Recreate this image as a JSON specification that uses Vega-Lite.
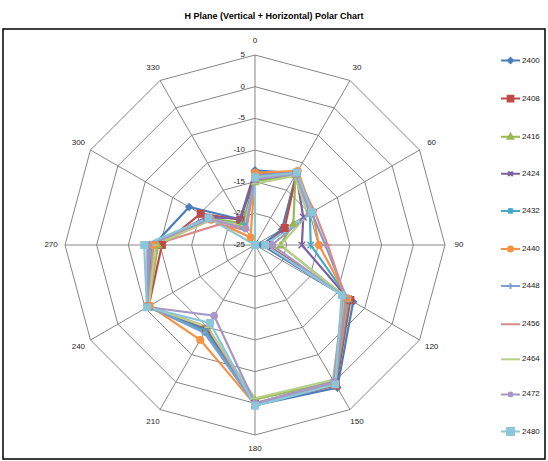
{
"$schema": "https://vega.github.io/schema/vega-lite/v6.json",
"width": 542, "height": 430,
"padding": {"left": 3, "top": 12, "right": 3, "bottom": 2},
"title": {"text": "H Plane (Vertical + Horizontal) Polar Chart", "fontSize": 9, "font": "Liberation Sans", "fontWeight": "bold", "anchor": "middle", "offset": 8, "color": "#000"},
"config": {"view": {"stroke": "#000", "strokeWidth": 1.5}, "font": "Liberation Sans"},
"datasets": {
"angles": [{"a":0,"lab":"0"},{"a":30,"lab":"30"},{"a":60,"lab":"60"},{"a":90,"lab":"90"},{"a":120,"lab":"120"},{"a":150,"lab":"150"},{"a":180,"lab":"180"},{"a":210,"lab":"210"},{"a":240,"lab":"240"},{"a":270,"lab":"270"},{"a":300,"lab":"300"},{"a":330,"lab":"330"}],
"rings": [{"u":5,"a":[0,30,60,90,120,150,180,210,240,270,300,330]},{"u":10,"a":[0,30,60,90,120,150,180,210,240,270,300,330]},{"u":15,"a":[0,30,60,90,120,150,180,210,240,270,300,330]},{"u":20,"a":[0,30,60,90,120,150,180,210,240,270,300,330]},{"u":25,"a":[0,30,60,90,120,150,180,210,240,270,300,330]},{"u":30,"a":[0,30,60,90,120,150,180,210,240,270,300,330]}],
"rlabels": [{"lab":"5","u":30},{"lab":"0","u":25},{"lab":"-5","u":20},{"lab":"-10","u":15},{"lab":"-15","u":10},{"lab":"-20","u":5},{"lab":"-25","u":0}],
"radar": [
{"s":"2400","a":0,"v":-13.2},{"s":"2400","a":30,"v":-11.9},{"s":"2400","a":60,"v":-20.1},{"s":"2400","a":90,"v":-23.9},{"s":"2400","a":120,"v":-7.1},{"s":"2400","a":150,"v":1.0},{"s":"2400","a":180,"v":0.3},{"s":"2400","a":210,"v":-9.5},{"s":"2400","a":240,"v":-5.4},{"s":"2400","a":270,"v":-9.0},{"s":"2400","a":300,"v":-13.0},{"s":"2400","a":330,"v":-20.3},
{"s":"2408","a":0,"v":-13.8},{"s":"2408","a":30,"v":-11.8},{"s":"2408","a":60,"v":-19.6},{"s":"2408","a":90,"v":-23.1},{"s":"2408","a":120,"v":-7.6},{"s":"2408","a":150,"v":0.6},{"s":"2408","a":180,"v":0.1},{"s":"2408","a":210,"v":-9.6},{"s":"2408","a":240,"v":-5.6},{"s":"2408","a":270,"v":-10.3},{"s":"2408","a":300,"v":-15.1},{"s":"2408","a":330,"v":-20.4},
{"s":"2416","a":0,"v":-15.0},{"s":"2416","a":30,"v":-12.2},{"s":"2416","a":60,"v":-18.0},{"s":"2416","a":90,"v":-21.0},{"s":"2416","a":120,"v":-8.2},{"s":"2416","a":150,"v":-0.1},{"s":"2416","a":180,"v":-0.6},{"s":"2416","a":210,"v":-9.8},{"s":"2416","a":240,"v":-5.5},{"s":"2416","a":270,"v":-9.7},{"s":"2416","a":300,"v":-16.5},{"s":"2416","a":330,"v":-21.0},
{"s":"2424","a":0,"v":-14.7},{"s":"2424","a":30,"v":-12.0},{"s":"2424","a":60,"v":-16.2},{"s":"2424","a":90,"v":-17.6},{"s":"2424","a":120,"v":-8.0},{"s":"2424","a":150,"v":0.2},{"s":"2424","a":180,"v":0.0},{"s":"2424","a":210,"v":-9.6},{"s":"2424","a":240,"v":-5.4},{"s":"2424","a":270,"v":-8.8},{"s":"2424","a":300,"v":-16.2},{"s":"2424","a":330,"v":-20.2},
{"s":"2432","a":0,"v":-14.3},{"s":"2432","a":30,"v":-11.9},{"s":"2432","a":60,"v":-15.0},{"s":"2432","a":90,"v":-16.2},{"s":"2432","a":120,"v":-7.9},{"s":"2432","a":150,"v":0.4},{"s":"2432","a":180,"v":0.1},{"s":"2432","a":210,"v":-9.3},{"s":"2432","a":240,"v":-5.5},{"s":"2432","a":270,"v":-8.4},{"s":"2432","a":300,"v":-16.7},{"s":"2432","a":330,"v":-21.5},
{"s":"2440","a":0,"v":-13.6},{"s":"2440","a":30,"v":-11.5},{"s":"2440","a":60,"v":-14.5},{"s":"2440","a":90,"v":-14.9},{"s":"2440","a":120,"v":-8.1},{"s":"2440","a":150,"v":0.2},{"s":"2440","a":180,"v":0.2},{"s":"2440","a":210,"v":-7.7},{"s":"2440","a":240,"v":-5.8},{"s":"2440","a":270,"v":-8.9},{"s":"2440","a":300,"v":-17.0},{"s":"2440","a":330,"v":-23.6},
{"s":"2448","a":0,"v":-14.0},{"s":"2448","a":30,"v":-11.8},{"s":"2448","a":60,"v":-14.7},{"s":"2448","a":90,"v":-13.9},{"s":"2448","a":120,"v":-8.3},{"s":"2448","a":150,"v":0.1},{"s":"2448","a":180,"v":0.2},{"s":"2448","a":210,"v":-9.0},{"s":"2448","a":240,"v":-5.6},{"s":"2448","a":270,"v":-8.3},{"s":"2448","a":300,"v":-16.6},{"s":"2448","a":330,"v":-22.0},
{"s":"2456","a":0,"v":-14.2},{"s":"2456","a":30,"v":-12.1},{"s":"2456","a":60,"v":-14.2},{"s":"2456","a":90,"v":-13.5},{"s":"2456","a":120,"v":-8.6},{"s":"2456","a":150,"v":0.0},{"s":"2456","a":180,"v":0.0},{"s":"2456","a":210,"v":-10.0},{"s":"2456","a":240,"v":-5.7},{"s":"2456","a":270,"v":-8.9},{"s":"2456","a":300,"v":-18.5},{"s":"2456","a":330,"v":-22.3},
{"s":"2464","a":0,"v":-15.3},{"s":"2464","a":30,"v":-12.4},{"s":"2464","a":60,"v":-15.4},{"s":"2464","a":90,"v":-21.0},{"s":"2464","a":120,"v":-8.8},{"s":"2464","a":150,"v":-0.4},{"s":"2464","a":180,"v":-0.8},{"s":"2464","a":210,"v":-10.0},{"s":"2464","a":240,"v":-5.6},{"s":"2464","a":270,"v":-9.3},{"s":"2464","a":300,"v":-17.0},{"s":"2464","a":330,"v":-21.5},
{"s":"2472","a":0,"v":-14.6},{"s":"2472","a":30,"v":-12.1},{"s":"2472","a":60,"v":-15.0},{"s":"2472","a":90,"v":-22.3},{"s":"2472","a":120,"v":-9.0},{"s":"2472","a":150,"v":-0.1},{"s":"2472","a":180,"v":0.0},{"s":"2472","a":210,"v":-12.1},{"s":"2472","a":240,"v":-5.4},{"s":"2472","a":270,"v":-8.0},{"s":"2472","a":300,"v":-16.8},{"s":"2472","a":330,"v":-22.0},
{"s":"2480","a":0,"v":-14.3},{"s":"2480","a":30,"v":-11.8},{"s":"2480","a":60,"v":-14.6},{"s":"2480","a":90,"v":-23.4},{"s":"2480","a":120,"v":-9.2},{"s":"2480","a":150,"v":0.4},{"s":"2480","a":180,"v":0.4},{"s":"2480","a":210,"v":-10.8},{"s":"2480","a":240,"v":-5.3},{"s":"2480","a":270,"v":-7.5},{"s":"2480","a":300,"v":-16.5},{"s":"2480","a":330,"v":-25.0}
]
},
"layer": [
{"data": {"name": "angles"},
 "transform": [{"calculate": "0", "as": "c"}, {"calculate": "30*sin(datum.a*PI/180)", "as": "ox"}, {"calculate": "30*cos(datum.a*PI/180)", "as": "oy"}],
 "mark": {"type": "rule", "color": "#868686", "strokeWidth": 1},
 "encoding": {
  "x": {"field": "c", "type": "quantitative", "scale": {"domain": [-39.79, 45.79], "nice": false, "zero": false}, "axis": null},
  "y": {"field": "c", "type": "quantitative", "scale": {"domain": [-33.79, 34.11], "nice": false, "zero": false}, "axis": null},
  "x2": {"field": "ox"}, "y2": {"field": "oy"}}},
{"data": {"name": "rings"},
 "transform": [{"flatten": ["a"]}, {"calculate": "datum.u*sin(datum.a*PI/180)", "as": "px"}, {"calculate": "datum.u*cos(datum.a*PI/180)", "as": "py"}],
 "mark": {"type": "line", "interpolate": "linear-closed", "color": "#868686", "strokeWidth": 1},
 "encoding": {
  "x": {"field": "px", "type": "quantitative"},
  "y": {"field": "py", "type": "quantitative"},
  "detail": {"field": "u", "type": "nominal"}, "order": {"field": "a", "type": "quantitative"}}},
{"data": {"name": "rlabels"},
 "transform": [{"calculate": "0", "as": "c"}],
 "mark": {"type": "text", "align": "right", "baseline": "middle", "dx": -10, "fontSize": 8, "color": "#222"},
 "encoding": {
  "x": {"field": "c", "type": "quantitative"},
  "y": {"field": "u", "type": "quantitative"},
  "text": {"field": "lab", "type": "nominal"}}},
{"data": {"name": "angles"},
 "transform": [{"calculate": "32.2*sin(datum.a*PI/180)", "as": "lx"}, {"calculate": "32.2*cos(datum.a*PI/180)", "as": "ly"}],
 "mark": {"type": "text", "align": "center", "baseline": "middle", "fontSize": 8, "color": "#222"},
 "encoding": {
  "x": {"field": "lx", "type": "quantitative"},
  "y": {"field": "ly", "type": "quantitative"},
  "text": {"field": "lab", "type": "nominal"}}},
{"data": {"name": "radar"},
 "transform": [{"calculate": "max(0, datum.v+25)", "as": "r"}, {"calculate": "datum.r*sin(datum.a*PI/180)", "as": "px"}, {"calculate": "datum.r*cos(datum.a*PI/180)", "as": "py"}],
 "mark": {"type": "line", "interpolate": "linear-closed", "strokeWidth": 2.2},
 "encoding": {
  "x": {"field": "px", "type": "quantitative"},
  "y": {"field": "py", "type": "quantitative"},
  "stroke": {"field": "s", "type": "nominal", "scale": {"domain": ["2400","2408","2416","2424","2432","2440","2448","2456","2464","2472","2480"], "range": ["#4A7EBB","#BE4B48","#98B954","#7D60A0","#46AAC5","#F69240","#7E9DD0","#DA8A88","#B6D08A","#A797C4","#8BC6D9"]}, "legend": null},
  "order": {"field": "a", "type": "quantitative"}}},
{"data": {"name": "radar"},
 "transform": [{"calculate": "max(0, datum.v+25)", "as": "r"}, {"calculate": "datum.r*sin(datum.a*PI/180)", "as": "px"}, {"calculate": "datum.r*cos(datum.a*PI/180)", "as": "py"}],
 "mark": {"type": "point", "filled": true, "opacity": 1, "strokeWidth": 1.3},
 "encoding": {
  "x": {"field": "px", "type": "quantitative"},
  "y": {"field": "py", "type": "quantitative"},
  "fill": {"field": "s", "type": "nominal", "scale": {"domain": ["2400","2408","2416","2424","2432","2440","2448","2456","2464","2472","2480"], "range": ["#4A7EBB","#BE4B48","#98B954","#7D60A0","#46AAC5","#F69240","#7E9DD0","#DA8A88","#B6D08A","#A797C4","#8BC6D9"]}, "legend": null},
  "stroke": {"field": "s", "type": "nominal", "legend": null},
  "shape": {"field": "s", "type": "nominal", "scale": {"domain": ["2400","2408","2416","2424","2432","2440","2448","2456","2464","2472","2480"], "range": ["diamond","square","triangle-up","M-1,-1L1,1M-1,1L1,-1","M-1,-1L1,1M-1,1L1,-1M0,-1.3V1.3","circle","M-1,0H1M0,-1V1","M-1,0H1","M-1,0H1","circle","square"]}, "legend": null},
  "size": {"field": "s", "type": "nominal", "scale": {"domain": ["2400","2408","2416","2424","2432","2440","2448","2456","2464","2472","2480"], "range": [45,42,38,30,30,42,30,20,20,25,72]}, "legend": null}}},
{"data": {"name": "radar"},
 "transform": [{"filter": "datum.a == 0"}, {"calculate": "0", "as": "c"}],
 "mark": {"type": "point", "filled": true, "opacity": 0, "fill": {"expr": "scale('fill', datum.value)"}, "stroke": {"expr": "scale('fill', datum.value)"}, "strokeWidth": 2},
 "encoding": {
  "x": {"field": "c", "type": "quantitative"},
  "y": {"field": "c", "type": "quantitative"},
  "shape": {"field": "s", "type": "nominal", "scale": {"domain": ["2400","2408","2416","2424","2432","2440","2448","2456","2464","2472","2480"], "range": ["M-1,0H1M0,-0.28L0.28,0L0,0.28L-0.28,0Z","M-1,0H1M-0.3,-0.3H0.3V0.3H-0.3Z","M-1,0H1M0,-0.3L0.3,0.22H-0.3Z","M-1,0H1M-0.24,-0.24L0.24,0.24M-0.24,0.24L0.24,-0.24","M-1,0H1M-0.24,-0.24L0.24,0.24M-0.24,0.24L0.24,-0.24M0,-0.3V0.3","M-1,0H1M-0.26,0A0.26,0.26 0 1,0 0.26,0A0.26,0.26 0 1,0 -0.26,0Z","M-1,0H1M0,-0.3V0.3","M-1,0H1M-0.2,0H0.2","M-1,0H1","M-1,0H1M-0.2,0A0.2,0.2 0 1,0 0.2,0A0.2,0.2 0 1,0 -0.2,0Z","M-1,0H1M-0.36,-0.36H0.36V0.36H-0.36Z"]},
   "legend": {"title": null, "orient": "none", "legendX": 497, "legendY": 21, "symbolSize": 361, "symbolStrokeWidth": 2, "symbolOpacity": 1, "rowPadding": 20.1, "labelOffset": 1, "labelFontSize": 8, "labelFont": "Liberation Sans", "labelColor": "#222"}}}}
],
"resolve": {"scale": {"shape": "independent", "size": "independent"}}
}
